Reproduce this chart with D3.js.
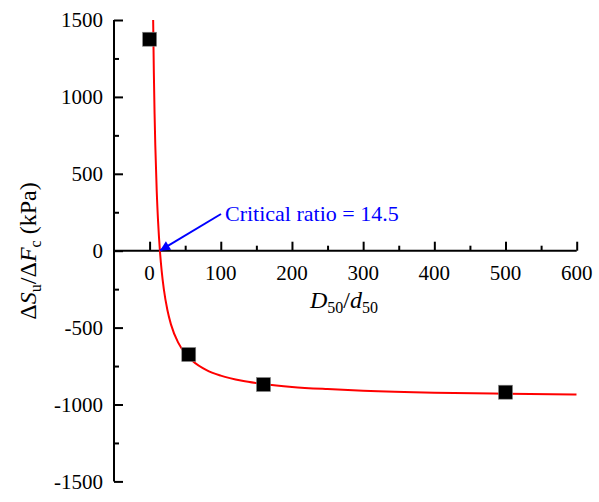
<!DOCTYPE html>
<html><head><meta charset="utf-8">
<script src="https://cdn.jsdelivr.net/npm/d3@7/dist/d3.min.js"></script>
<style>body{margin:0;background:#fff}</style>
</head><body>
<svg id="chart" width="599" height="502" font-family="'Liberation Serif', 'Times New Roman', Times, serif"></svg>
<script>
// measured points
const ratioX = [0, 55, 160, 500];
const deltaY = [1375, -675, -870, -920];
// fitted curve
const fitX = [5, 6, 7, 8, 10, 12, 14.5, 17, 20, 25, 30, 40, 50, 60, 80, 100, 130, 160, 200, 250, 300, 400, 500, 600];
const fitY = [1500, 1153, 891, 687, 390, 184, 0, -133, -250, -386, -479, -596, -667, -715, -776, -812, -846, -867, -886, -900, -910, -923, -930, -935];
const xTicks = [0, 100, 200, 300, 400, 500, 600];
const xMinor = [50, 150, 250, 350, 450, 550];
const yTicks = [-1500, -1000, -500, 0, 500, 1000, 1500];
const yMinor = [-1250, -750, -250, 250, 750, 1250];
const criticalRatio = 14.5;
const annotationText = "Critical ratio = 14.5";

const FONT = "'Liberation Serif', 'Times New Roman', Times, serif";
const svg = d3.select("#chart");
const x = d3.scaleLinear().domain([-50, 600]).range([114, 576.7]);
const y = d3.scaleLinear().domain([-1500, 1500]).range([481.4, 20]);
const fs = 21;

const defs = svg.append("defs");
defs.append("clipPath").attr("id","clip")
  .append("rect").attr("x", x(-50)).attr("y", y(1500)).attr("width", x(600)-x(-50)).attr("height", y(-1500)-y(1500));
defs.append("marker").attr("id","arr").attr("viewBox","0 0 10 10")
  .attr("refX",10).attr("refY",5).attr("markerWidth",6).attr("markerHeight",5)
  .attr("markerUnits","strokeWidth").attr("orient","auto")
  .append("path").attr("d","M0,0L10,5L0,10z").attr("fill","#0000ff");

// y axis
const yAxis = d3.axisRight(y).tickValues(yTicks).tickSize(9).tickFormat("");
const gy = svg.append("g").attr("transform",`translate(${x(-50)},0)`).call(yAxis);
gy.select(".domain").attr("stroke","#000").attr("stroke-width",2).attr("d",`M0,${y(-1500)}V${y(1500)}`);
gy.selectAll(".tick line").attr("stroke","#000").attr("stroke-width",2);
const yAxisMinor = d3.axisRight(y).tickValues(yMinor).tickSize(5).tickFormat("");
const gym = svg.append("g").attr("transform",`translate(${x(-50)},0)`).call(yAxisMinor);
gym.select(".domain").remove();
gym.selectAll(".tick line").attr("stroke","#000").attr("stroke-width",2);
svg.append("g").selectAll("text").data(yTicks).join("text")
  .attr("font-family", FONT)
  .attr("x", 103).attr("y", d => y(d)).attr("dy","0.35em").attr("text-anchor","end")
  .attr("font-size", fs).text(d => d);

// x axis at y=0
const xAxis = d3.axisTop(x).tickValues(xTicks).tickSize(9).tickFormat("");
const gx = svg.append("g").attr("transform",`translate(0,${y(0)})`).call(xAxis);
gx.select(".domain").attr("stroke","#000").attr("stroke-width",2).attr("d",`M${x(-50)},0H${x(600)}`);
gx.selectAll(".tick line").attr("stroke","#000").attr("stroke-width",2);
const xAxisMinor = d3.axisTop(x).tickValues(xMinor).tickSize(5).tickFormat("");
const gxm = svg.append("g").attr("transform",`translate(0,${y(0)})`).call(xAxisMinor);
gxm.select(".domain").remove();
gxm.selectAll(".tick line").attr("stroke","#000").attr("stroke-width",2);
svg.append("g").selectAll("text").data(xTicks).join("text")
  .attr("font-family", FONT)
  .attr("x", d => x(d)).attr("y", y(0)+29).attr("text-anchor","middle")
  .attr("font-size", fs).text(d => d);

// x title
const tfs = 24, sfs = 16;
const xt = svg.append("text").attr("font-family", FONT).attr("x", 344).attr("y", 308).attr("text-anchor","middle").attr("font-size", tfs);
xt.append("tspan").attr("font-style","italic").text("D");
xt.append("tspan").attr("font-size",sfs).attr("dy",5).text("50");
xt.append("tspan").attr("dy",-5).text("/");
xt.append("tspan").attr("font-style","italic").text("d");
xt.append("tspan").attr("font-size",sfs).attr("dy",5).text("50");

// y title
const yt = svg.append("text").attr("font-family", FONT).attr("transform","translate(36,251) rotate(-90)").attr("text-anchor","middle").attr("font-size",tfs);
yt.append("tspan").text("Δ");
yt.append("tspan").attr("font-style","italic").text("S");
yt.append("tspan").attr("font-size",sfs).attr("dy",5).text("u");
yt.append("tspan").attr("dy",-5).text("/Δ");
yt.append("tspan").attr("font-style","italic").text("F");
yt.append("tspan").attr("font-size",sfs).attr("dy",5).text("c");
yt.append("tspan").attr("dy",-5).text(" (kPa)");

// fit curve
const fitData = fitX.map((v,i)=>[v, fitY[i]]);
svg.append("path").datum(fitData).attr("clip-path","url(#clip)")
  .attr("fill","none").attr("stroke","#ff0000").attr("stroke-width",2)
  .attr("d", d3.line().x(d=>x(d[0])).y(d=>y(d[1])).curve(d3.curveMonotoneX));

// markers
const ms = 14;
svg.append("g").selectAll("rect").data(ratioX.map((v,i)=>[v, deltaY[i]])).join("rect")
  .attr("x", d => x(d[0]) - ms/2).attr("y", d => y(d[1]) - ms/2)
  .attr("width", ms).attr("height", ms).attr("fill","#000").attr("stroke","#888").attr("stroke-width",0.6);

// annotation
svg.append("line").attr("x1", 221).attr("y1", 214).attr("x2", x(criticalRatio)).attr("y2", y(0))
  .attr("stroke","#0000ff").attr("stroke-width",2).attr("marker-end","url(#arr)");
svg.append("text").attr("font-family", FONT).attr("x", 225).attr("y", 221).attr("font-size", 22).attr("fill","#0000ff").text(annotationText);
</script>
</body></html>
